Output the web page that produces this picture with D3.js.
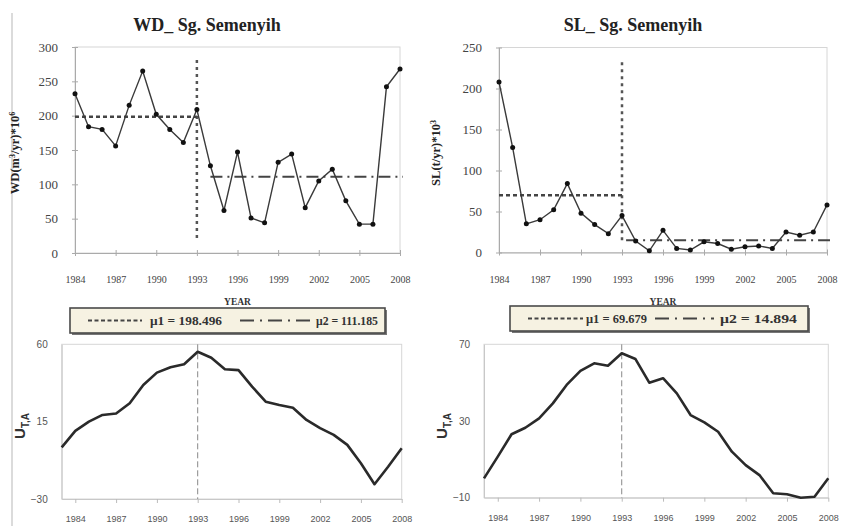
<!DOCTYPE html>
<html>
<head>
<meta charset="utf-8">
<script src="https://cdn.jsdelivr.net/npm/d3@7/dist/d3.min.js"></script>
<style>
  html, body { margin: 0; padding: 0; background: #fff; }
  svg { display: block; }
</style>
</head>
<body>
<svg id="chart" width="845" height="526"></svg>
<script>
// ---- data ----
const years = d3.range(1984, 2009);                 // 1984 … 2008
const wdValues = [232, 184, 180, 156, 215, 265, 202, 180, 161, 209,
                  127, 62, 147, 51, 44, 132, 144, 66, 105, 122,
                  76, 42, 42, 242, 268];
const slValues = [208, 128, 35, 40, 52, 84, 48, 34, 23, 45,
                  14, 2, 27, 5, 3, 13, 11, 4, 7, 8,
                  5, 25, 21, 25, 58];
const wdMeans = [198.496, 111.185];
const slMeans = [69.679, 14.894];
const changeYear = 1993;

const uYears = d3.range(1983, 2009);                // 1983 … 2008
const wdU = [0, 9.6, 15, 18.9, 19.7, 25.7, 36.3, 43.5, 46.6, 48.4,
             55.7, 52.2, 45.5, 45, 35.4, 26.6, 24.7, 23.1, 16, 11.2,
             7.3, 1.5, -9.2, -21.4, -11.2, -0.5];
const slU = [0.1, 11.4, 23.1, 26.5, 31.4, 39.2, 48.8, 56.1, 60.1, 58.8,
             65.3, 62.3, 50, 52.3, 44.4, 33.1, 29.3, 24.4, 14, 7,
             1.8, -7.7, -8.2, -10, -9.5, 0.1];

const yearTicks = d3.range(1984, 2009, 3);
const wdTicks = d3.range(0, 301, 50);
const slTicks = d3.range(0, 251, 50);
const wdUTicks = [-30, 15, 60];
const slUTicks = [-10, 30, 70];

const SERIF = "'Liberation Serif', 'Times New Roman', 'DejaVu Serif', serif";
const SANS = "'Liberation Sans', Arial, 'DejaVu Sans', sans-serif";

const svg = d3.select("#chart");

// faint page edge on the far left
svg.append("line").attr("x1", 12).attr("x2", 12).attr("y1", 13).attr("y2", 526)
  .attr("stroke", "#cfcfcf").attr("stroke-width", 1.5);

function frame(g, x0, x1, y0, y1) {
  g.append("rect").attr("x", x0).attr("y", y0).attr("width", x1 - x0).attr("height", y1 - y0)
    .attr("fill", "none").attr("stroke", "#d6d6d6").attr("stroke-width", 1);
}

// ---- upper panels: annual series with segment means ----
function topPanel(o) {
  const g = svg.append("g");
  const x = d3.scaleLinear().domain([1984, 2008]).range(o.xr);
  const y = d3.scaleLinear().domain([0, o.ymax]).range(o.yr);
  frame(g, o.xr[0], o.xr[1], o.yr[1], o.yr[0]);

  const yAxis = g.append("g").attr("transform", `translate(${o.xr[0]},0)`)
    .call(d3.axisLeft(y).tickValues(o.yticks).tickSizeInner(3).tickSizeOuter(0).tickPadding(14));
  yAxis.selectAll(".tick line").attr("x2", 3).attr("x1", -3);
  const xAxis = g.append("g").attr("transform", `translate(0,${o.yr[0]})`)
    .call(d3.axisBottom(x).tickValues(yearTicks).tickFormat(d3.format("d")).tickSizeInner(3).tickSizeOuter(0).tickPadding(20));
  xAxis.selectAll(".tick line").attr("y1", -3).attr("y2", 3);
  [yAxis, xAxis].forEach(a => {
    a.attr("font-family", SERIF);
    a.select(".domain").attr("stroke", "#aaa");
    a.selectAll(".tick line").attr("stroke", "#aaa");
  });
  yAxis.selectAll("text").attr("font-size", 13).attr("fill", "#444");
  xAxis.selectAll("text").attr("font-size", 10).attr("fill", "#444");

  // change-point marker
  g.append("line").attr("x1", x(changeYear)).attr("x2", x(changeYear))
    .attr("y1", y(o.vline[0])).attr("y2", y(o.vline[1]))
    .attr("stroke", "#555").attr("stroke-width", 2.5).attr("stroke-dasharray", "3,4");

  // segment means
  g.append("line").attr("x1", x(1984)).attr("x2", x(changeYear))
    .attr("y1", y(o.means[0])).attr("y2", y(o.means[0]))
    .attr("stroke", "#444").attr("stroke-width", 2.5).attr("stroke-dasharray", "4,3");
  g.append("line").attr("x1", x(o.mu2Start)).attr("x2", x(2008) + 3)
    .attr("y1", y(o.means[1])).attr("y2", y(o.means[1]))
    .attr("stroke", "#444").attr("stroke-width", 2).attr("stroke-dasharray", "12,5,2,5");

  const line = d3.line().x((d, i) => x(years[i])).y(d => y(d));
  g.append("path").datum(o.values).attr("d", line)
    .attr("fill", "none").attr("stroke", "#3a3a3a").attr("stroke-width", 1.4);
  g.selectAll("circle.pt").data(o.values).enter().append("circle")
    .attr("cx", (d, i) => x(years[i])).attr("cy", d => y(d)).attr("r", 2.5)
    .attr("fill", "#111");

  // titles
  g.append("text").attr("font-family", SERIF).attr("x", o.titleX).attr("y", 31)
    .attr("text-anchor", "middle").attr("font-size", 18).attr("font-weight", "bold")
    .attr("fill", "#222").text(o.title);
  g.append("text").attr("font-family", SERIF).attr("transform", `translate(${o.ylabX},153) rotate(-90)`)
    .attr("text-anchor", "middle").attr("font-size", 12.5).attr("font-weight", "bold").attr("fill", "#222")
    .call(t => {
      o.ylab.forEach(p => {
        const s = t.append("tspan").text(p.t);
        if (p.sup) s.attr("baseline-shift", "super").attr("font-size", 8);
      });
    });
  g.append("text").attr("font-family", SERIF).attr("x", (o.xr[0] + o.xr[1]) / 2).attr("y", 305)
    .attr("text-anchor", "middle").attr("font-size", 9.5).attr("font-weight", "bold")
    .attr("fill", "#333").text("YEAR");

  // legend box
  const L = o.legend;
  g.append("rect").attr("x", L.x0 + 2).attr("y", L.y0 + 2).attr("width", L.x1 - L.x0).attr("height", L.y1 - L.y0)
    .attr("fill", "#777");
  g.append("rect").attr("x", L.x0).attr("y", L.y0).attr("width", L.x1 - L.x0).attr("height", L.y1 - L.y0)
    .attr("fill", "#f6f2e2").attr("stroke", "#4a4a4a").attr("stroke-width", 1.6);
  const cy = (L.y0 + L.y1) / 2;
  g.append("line").attr("x1", L.s1[0]).attr("x2", L.s1[1]).attr("y1", cy).attr("y2", cy)
    .attr("stroke", "#444").attr("stroke-width", 2.2).attr("stroke-dasharray", "4,2.5");
  g.append("line").attr("x1", L.s2[0]).attr("x2", L.s2[1]).attr("y1", cy).attr("y2", cy)
    .attr("stroke", "#444").attr("stroke-width", 2).attr("stroke-dasharray", "14,6,2,6");
  [[L.t1, o.means[0], "\u03bc1"], [L.t2, o.means[1], "\u03bc2"]].forEach(([span, v, sym]) => {
    g.append("text").attr("font-family", SERIF).attr("x", span[0]).attr("y", cy + 4)
      .attr("font-size", 11.5).attr("font-weight", "bold").attr("fill", "#333")
      .attr("textLength", span[1] - span[0]).attr("lengthAdjust", "spacingAndGlyphs")
      .text(sym + " = " + v.toFixed(3));
  });
}

// ---- lower panels: Pettitt statistic ----
function bottomPanel(o) {
  const g = svg.append("g");
  const x = d3.scaleLinear().domain([1983, 2008]).range(o.xr);
  const y = d3.scaleLinear().domain(o.ydom).range(o.yr);
  frame(g, o.xr[0], o.xr[1], o.yr[1], o.yr[0]);

  const yAxis = g.append("g").attr("transform", `translate(${o.xr[0]},0)`)
    .call(d3.axisLeft(y).tickValues(o.yticks).tickSize(0).tickPadding(14));
  const xAxis = g.append("g").attr("transform", `translate(0,${o.yr[0]})`)
    .call(d3.axisBottom(x).tickValues(yearTicks).tickFormat(d3.format("d")).tickSizeInner(4).tickSizeOuter(0).tickPadding(13));
  [yAxis, xAxis].forEach(a => {
    a.attr("font-family", SANS);
    a.select(".domain").attr("stroke", "#c8c8c8");
    a.selectAll(".tick line").attr("stroke", "#bbb");
  });
  yAxis.selectAll("text").attr("font-size", 10).attr("fill", "#555");
  xAxis.selectAll("text").attr("font-size", 9).attr("fill", "#555");

  g.append("line").attr("x1", x(changeYear)).attr("x2", x(changeYear))
    .attr("y1", o.yr[1]).attr("y2", o.yr[0])
    .attr("stroke", "#888").attr("stroke-width", 1).attr("stroke-dasharray", "6,3");

  const line = d3.line().x((d, i) => x(uYears[i])).y(d => y(d));
  g.append("path").datum(o.values).attr("d", line)
    .attr("fill", "none").attr("stroke", "#2a2a2a").attr("stroke-width", 2.6)
    .attr("stroke-linejoin", "round");

  const t = g.append("text").attr("font-family", SANS)
    .attr("transform", `translate(${o.labX},426) rotate(-90)`)
    .attr("text-anchor", "middle").attr("font-weight", "bold").attr("fill", "#333");
  t.append("tspan").attr("font-size", 15).text("U");
  t.append("tspan").attr("font-size", 10).attr("dy", 4).text("T,A");
}

topPanel({
  values: wdValues, means: wdMeans, ymax: 300, yticks: wdTicks,
  xr: [75, 400], yr: [253, 47], vline: [22, 282], mu2Start: 1994,
  title: "WD_ Sg. Semenyih", titleX: 207, ylabX: 19,
  ylab: [{t: "WD(m"}, {t: "3", sup: true}, {t: "/yr)*10"}, {t: "6", sup: true}],
  legend: {x0: 70, x1: 385, y0: 308, y1: 333, s1: [88, 142], t1: [150, 222], s2: [240, 310], t2: [316, 378]}
});
topPanel({
  values: slValues, means: slMeans, ymax: 250, yticks: slTicks,
  xr: [499, 827], yr: [252.5, 47.5], vline: [15, 232], mu2Start: 1993.3,
  title: "SL_ Sg. Semenyih", titleX: 633, ylabX: 440,
  ylab: [{t: "SL(t/yr)*10"}, {t: "3", sup: true}],
  legend: {x0: 510, x1: 808, y0: 306, y1: 331, s1: [528, 583], t1: [586, 647], s2: [655, 714], t2: [720, 797]}
});
bottomPanel({values: wdU, ydom: [-30, 60], yticks: wdUTicks, xr: [61.7, 401.7], yr: [499, 344.3], labX: 25});
bottomPanel({values: slU, ydom: [-10, 70], yticks: slUTicks, xr: [484, 828.3], yr: [497.7, 344.3], labX: 447});
</script>
</body>
</html>
